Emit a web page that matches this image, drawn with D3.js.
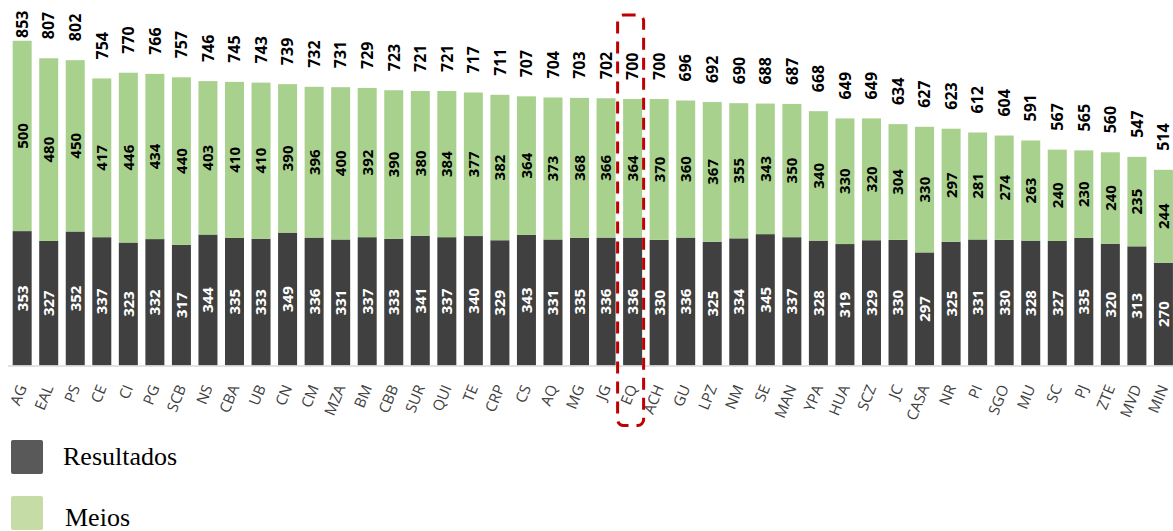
<!DOCTYPE html>
<html>
<head>
<meta charset="utf-8">
<script src="https://cdn.jsdelivr.net/npm/d3@7"></script>
<style>
  html, body { margin: 0; padding: 0; background: #fff; }
  svg { display: block; }
</style>
</head>
<body>
<svg id="chart" width="1173" height="531"></svg>
<script>
// Unit codes, in ranking order
const categories = ["AG","EAL","PS","CE","CI","PG","SCB","NS","CBA","UB","CN","CM","MZA","BM","CBB","SUR","QUI","TE","CRP","CS","AQ","MG","JG","EQ","ACH","GU","LPZ","NM","SE","MAN","YPA","HUA","SCZ","JC","CASA","NR","PI","SGO","MU","SC","PJ","ZTE","MVD","MIN"];

// Score for results (bottom segment)
const resultados = [353,327,352,337,323,332,317,344,335,333,349,336,331,337,333,341,337,340,329,343,331,335,336,336,330,336,325,334,345,337,328,319,329,330,297,325,331,330,328,327,335,320,313,270];

// Score for means (top segment)
const meios = [500,480,450,417,446,434,440,403,410,410,390,396,400,392,390,380,384,377,382,364,373,368,366,364,370,360,367,355,343,350,340,330,320,304,330,297,281,274,263,240,230,240,235,244];

// Published overall totals shown above each bar
const totals = [853,807,802,754,770,766,757,746,745,743,739,732,731,729,723,721,721,717,711,707,704,703,702,700,700,696,692,690,688,687,668,649,649,634,627,623,612,604,591,567,565,560,547,514];

const seriesNames = ["Resultados", "Meios"];
const highlighted = "EQ";

const colors = { Resultados: "#404040", Meios: "#a9d18e" };
const legendColors = { Resultados: "#595959", Meios: "#c5dca6" };

const svg = d3.select("#chart");

const baseY = 365.5;
const x = d3.scaleBand()
  .domain(categories)
  .range([8.9, 1176.7])
  .paddingInner(0.284)
  .paddingOuter(0.142);

const y = d3.scaleLinear().domain([0, 960]).range([baseY, 0]);

const rows = categories.map((c, i) => ({
  cat: c, Resultados: resultados[i], Meios: meios[i], total: totals[i]
}));

const stacked = d3.stack().keys(seriesNames)(rows);

// Stacked bars
const layers = svg.append("g").selectAll("g")
  .data(stacked)
  .join("g")
  .attr("fill", d => colors[d.key]);

layers.selectAll("rect")
  .data(d => d)
  .join("rect")
  .attr("x", d => x(d.data.cat))
  .attr("width", x.bandwidth())
  .attr("y", d => y(d[1]))
  .attr("height", d => y(d[0]) - y(d[1]));

// Category axis line
svg.append("line")
  .attr("x1", 8).attr("x2", 1173)
  .attr("y1", baseY + 0.5).attr("y2", baseY + 0.5)
  .attr("stroke", "#d9d9d9")
  .attr("stroke-width", 1.5);

// Segment value labels
const segLabels = svg.append("g")
  .attr("font-family", "'Open Sans', sans-serif")
  .attr("font-weight", 700)
  .attr("font-size", 15)
  .attr("text-anchor", "middle");

stacked.forEach(layer => {
  segLabels.append("g")
    .attr("fill", layer.key === "Resultados" ? "#ffffff" : "#000000")
    .selectAll("text")
    .data(layer)
    .join("text")
    .attr("transform", d => {
      const cx = x(d.data.cat) + x.bandwidth() / 2;
      const cy = (y(d[0]) + y(d[1])) / 2;
      return `translate(${cx},${cy}) rotate(-90)`;
    })
    .attr("dy", "0.36em")
    .text(d => d.data[layer.key]);
});

// Total labels above bars
svg.append("g")
  .attr("font-family", "'Open Sans', sans-serif")
  .attr("font-weight", 700)
  .attr("font-size", 16)
  .attr("fill", "#000")
  .selectAll("text")
  .data(rows)
  .join("text")
  .attr("transform", d => {
    const cx = x(d.cat) + x.bandwidth() / 2;
    const top = y(d.Resultados + d.Meios);
    const ly = Math.max(top - 19, 38);
    return `translate(${cx},${ly}) rotate(-90)`;
  })
  .attr("dy", "0.36em")
  .attr("text-anchor", "start")
  .text(d => d.total);

// Category labels, slanted
svg.append("g")
  .attr("font-family", "'Open Sans', sans-serif")
  .attr("font-size", 15)
  .attr("fill", "#404040")
  .selectAll("text")
  .data(categories)
  .join("text")
  .attr("text-anchor", "end")
  .attr("transform", c => `translate(${x(c) + x.bandwidth() / 2 + 5},${baseY + 22}) rotate(-68)`)
  .text(c => c);

// Dashed highlight around the selected unit
svg.append("rect")
  .attr("x", x(highlighted) - 5.5)
  .attr("width", x.bandwidth() + 7)
  .attr("y", 15)
  .attr("height", baseY + 60 - 15)
  .attr("rx", 6)
  .attr("fill", "none")
  .attr("stroke", "#c00000")
  .attr("stroke-width", 3)
  .attr("stroke-dasharray", "12,8");

// Legend
const legend = svg.append("g");
seriesNames.forEach((name, i) => {
  const gy = 440 + i * 56;
  legend.append("rect")
    .attr("x", 11).attr("y", gy)
    .attr("width", 32).attr("height", 34)
    .attr("rx", 2)
    .attr("fill", legendColors[name]);
  legend.append("text")
    .attr("x", i === 0 ? 63 : 65)
    .attr("y", gy + 25 + i * 5)
    .attr("font-family", "'Liberation Serif', 'Times New Roman', serif")
    .attr("font-size", 26)
    .attr("fill", "#000")
    .text(name);
});
</script>
</body>
</html>
